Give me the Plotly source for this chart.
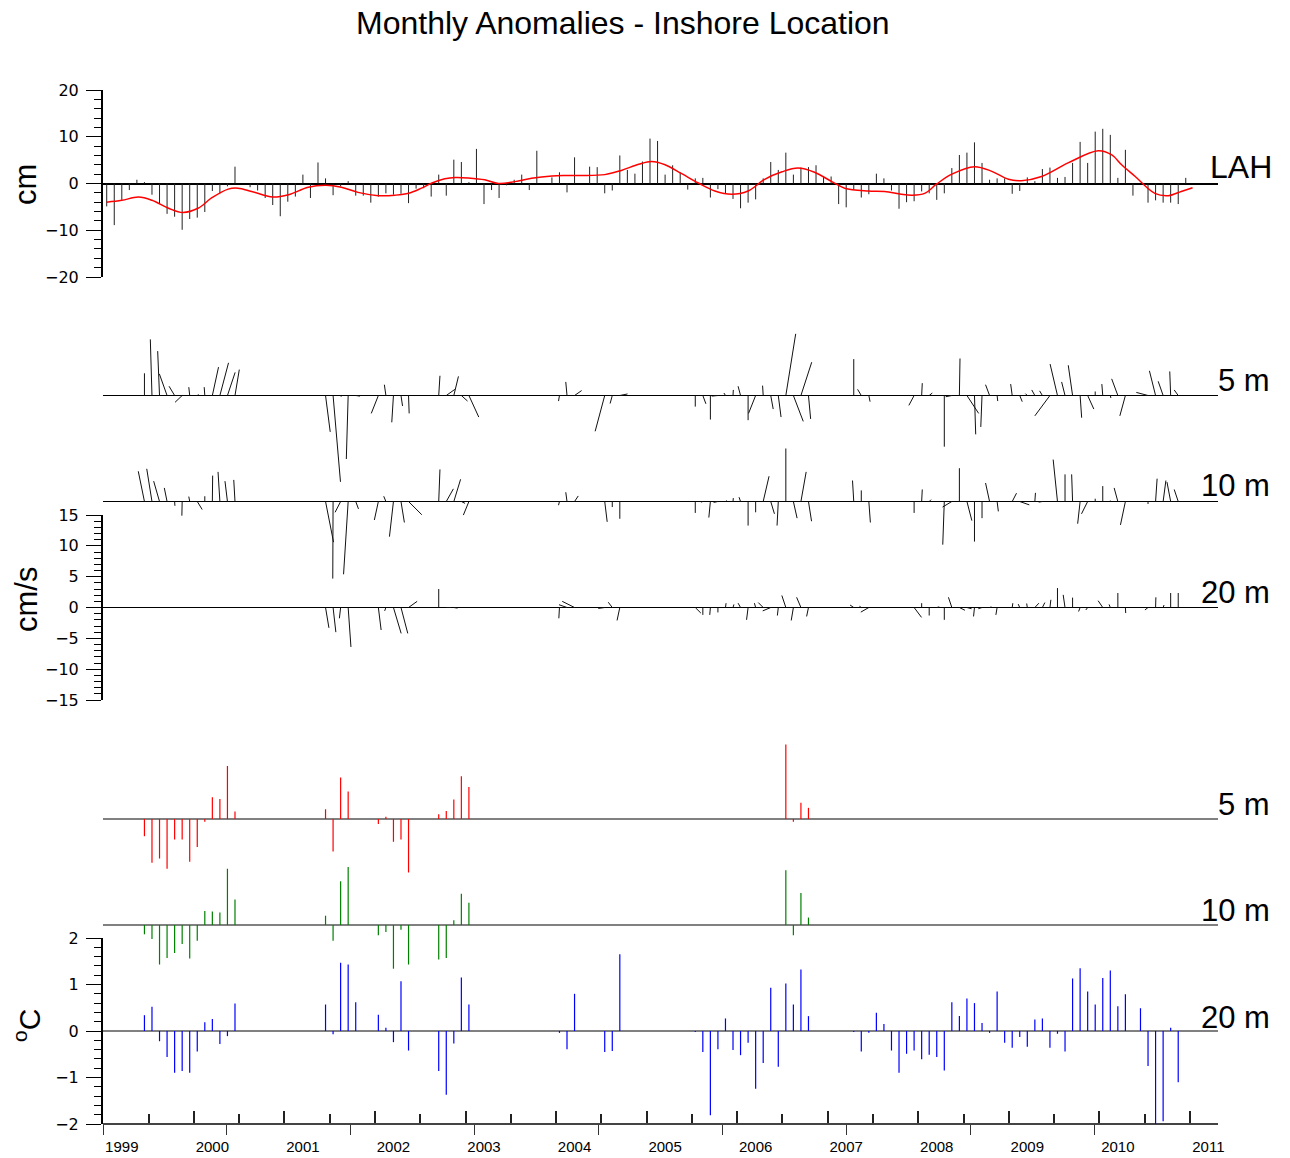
import plotly.graph_objects as go

# ---------------- time base: monthly records starting November 1998 ----------------
START_YEAR = 1998
START_MONTH = 11


def month_to_year(m):
    return START_YEAR + (START_MONTH - 1 + m) / 12.0


# ---------------- sea level anomaly at LAH (cm), one value per month ----------------
sea_level_cm = [
    -4.9, -8.9, -3.5, -1.4, 0.8, 0.3, -2.4, -4.4, -6.5, -7.1, -9.9, -7.6,
    -7.3, -6.1, -1.6, -2.1, -0.6, 3.6, 0.0, -0.8, -1.5, -3.1, -4.6, -7.0,
    -3.9, -2.8, 1.9, -3.1, 4.5, 1.1, -2.5, -0.6, 0.5, -2.6, -2.6, -4.1,
    -2.8, -2.1, -2.4, -2.2, -4.2, -1.1, -1.0, -2.8, 1.9, -2.6, 5.1, 4.6,
    0.3, 7.4, -4.4, -1.4, -3.1, -0.4, 0.8, 1.9, -1.4, 7.0, 0.0, 1.3,
    2.4, -1.9, 5.6, 0.0, 3.6, 3.5, -2.1, -1.5, 6.0, 2.9, 2.1, 4.7,
    9.6, 9.1, 1.9, 3.9, 2.4, -1.3, 1.1, 1.2, -3.0, -1.2, -2.1, -3.3,
    -5.3, -4.1, -3.4, 1.1, 4.6, 2.9, 6.6, 1.9, 3.4, 3.5, 3.9, 1.5,
    1.5, -4.4, -5.1, -1.4, -3.0, -2.3, 2.1, 1.1, -1.5, -5.4, -4.0, -3.8,
    -1.7, -2.1, -3.5, -2.1, 3.3, 6.1, 6.6, 8.8, 4.4, 0.8, 1.1, 1.1,
    -2.2, -1.6, 1.3, 0.5, 3.1, 3.4, 1.2, 1.4, 4.4, 8.9, 4.4, 11.1,
    11.7, 10.4, 1.2, 7.2, -2.6, 0.0, -4.1, -3.6, -4.1, -4.1, -4.4, 1.2,
]

# low-pass filtered sea level (month index, cm)
sl_smooth_month = [
    0, 2.0, 4.2, 6.0, 8.2, 10.1, 12.1, 13.9, 16.1, 17.4, 19.2, 22.0, 24.1,
    26.7, 29.0, 31.1, 33.3, 36.0, 38.2, 40.0, 41.7, 43.1, 44.8, 46.2, 47.9,
    50.1, 51.9, 54.1, 56.3, 59.0, 60.7, 62.9, 66.0, 68.2, 70.5, 72.2, 74.0,
    76.2, 78.4, 80.6, 82.8, 85.0, 87.2, 89.5, 91.6, 93.8, 96.1, 97.8, 100.9,
    103.1, 105.3, 106.7, 108.4, 110.0, 112.0, 115.0, 117.3, 119.5, 121.2,
    123.9, 127.4, 131.4, 133.2, 134.5, 136.3, 138.9, 140.7, 142.4, 143.9,
]
sl_smooth_cm = [
    -4.0, -3.6, -2.9, -3.6, -5.3, -6.2, -5.3, -3.1, -1.2, -1.0, -1.7, -2.9, -2.4,
    -0.8, -0.4, -0.8, -1.9, -2.6, -2.5, -2.1, -1.0, 0.1, 1.0, 1.3, 1.2,
    0.8, 0.0, 0.4, 1.1, 1.6, 1.7, 1.7, 1.9, 2.8, 4.1, 4.7, 4.0,
    2.1, 0.1, -1.6, -2.3, -1.6, 0.9, 2.5, 3.3, 2.4, 0.4, -1.0, -1.6,
    -1.7, -2.3, -2.5, -2.1, -0.1, 2.0, 3.6, 2.6, 0.9, 0.6,
    1.5, 4.4, 7.0, 6.1, 4.0, 1.5, -2.1, -2.6, -1.7, -0.9,
]

# ---------------- current vectors (cm/s): month index, east u, north v ----------------
cur5_month = [5, 6, 7, 8, 9, 10, 11, 12, 13, 14, 15, 16, 17, 29, 30, 31, 32, 33, 36, 37, 38, 39, 40,
              44, 45, 46, 47, 48, 60, 61, 62, 66, 67, 68, 78, 79, 80, 81, 82, 83, 84, 85, 86, 87,
              88, 89, 90, 91, 92, 93, 99, 100, 101, 107, 108, 109, 111, 112, 113, 114, 115, 116,
              117, 118, 120, 121, 122, 123, 124, 125, 126, 127, 128, 129, 130, 131, 132, 133,
              134, 135, 138, 139, 140, 141, 142]
cur5_u = [0, -0.27, -0.3, -1.25, -0.9, -1.15, -0.15, 0.2, -0.1, 1.0, 1.4, 1.25, 0.7, 0.76, 1.2,
          0.1, -0.3, 0.7, -1.15, -0.25, -0.27, 0.25, 0.1, 0.2, 1.4, 0.75, 1.0, 1.6, -0.15, -0.2,
          1.15, -1.55, -0.35, 1.25, 0, 0.5, 0, -1.0, -0.25, 0.05, -0.4, 0, -1.15, -0.1, 0.4,
          0.45, 1.6, 1.6, 1.75, 0.35, 0, -0.6, 0.2, -0.85, 0.1, 0.5, 0, -1.0, 0.1, 1.9, 0.2,
          -0.2, -0.65, 0.1, -0.25, 0.4, -0.3, -0.5, -0.45, -2.45, -1.2, -0.55, -0.7, 0.25,
          1.0, 0, -0.15, 0.1, -1.0, -0.9, -1.9, -1.0, -0.8, -0.15, -0.65]
cur5_v = [3.6, 9.1, 7.2, 3.5, 1.5, -1.1, 1.35, 0.2, 1.35, 4.6, 5.3, 3.75, 4.2, -5.9, -14.0,
          -0.2, -10.3, -0.1, -2.9, 1.75, -4.35, -1.7, -2.9, 3.2, 1.0, 3.1, -0.9, -3.5, -0.9,
          2.2, 0.8, -5.8, -1.3, 0.25, -1.8, -1.35, -3.9, -0.1, 0.4, 0.9, 1.5, -4.0, -2.9, 1.6,
          -2.2, -3.5, 10.0, -4.2, 5.4, -3.8, 5.9, 1.0, -1.0, -1.6, 2.0, 0.4, -8.3, -0.2, 6.0,
          -2.9, -6.3, -5.1, 1.75, -0.9, 1.85, -1.0, 0.3, 0.9, 0.75, -3.3, 5.1, 2.2, 4.9,
          -3.6, -2.2, 0.65, 1.85, -0.4, 2.7, -3.3, 0.5, 4.0, 2.3, 3.9, 0.9]

cur10_month = [5, 6, 7, 8, 9, 10, 11, 12, 13, 14, 15, 16, 17, 29, 30, 31, 32, 33, 36, 37, 38, 39,
               40, 44, 45, 46, 47, 48, 60, 61, 62, 66, 67, 68, 78, 79, 80, 81, 82, 83, 84, 85, 86,
               87, 88, 89, 90, 91, 92, 93, 99, 100, 101, 107, 108, 109, 111, 112, 113, 114, 115,
               116, 117, 118, 120, 121, 123, 124, 126, 127, 128, 129, 130, 131, 132, 133, 134,
               135, 138, 139, 140, 141, 142]
cur10_u = [-1.0, -0.85, -0.95, -0.45, 0.05, -0.05, -0.15, 0.8, 0, 0.05, -0.3, -0.4, -0.2, 1.3,
           -0.05, -0.9, -0.75, 0.45, -0.65, -0.35, -0.65, 0.55, 2.15, 0.2, 1.15, 1.1, 0.6, -0.9,
           -0.15, -0.2, 0.6, 0.4, 0, 0, 0, -0.3, -0.25, -0.7, 0.2, 0.05, -0.25, 0, 0, 0.95, 0.6,
           -0.2, 0, 0.6, 0.85, 0.5, -0.2, 0, 0.25, 0, 0.1, 0.3, -0.25, -1.5, 0, 0.8, 0, 0,
           -0.65, 0.2, 0.7, 1.55, 0.1, -0.6, -0.7, 0, -0.15, -0.4, -1.0, 0, 0, 0, -0.6, -0.8,
           0, 0.25, 0.45, -0.6, -0.65]
cur10_v = [4.9, 5.3, 3.3, 2.2, -0.7, -2.3, 0.8, -1.3, 0.85, 4.2, 4.8, 3.3, 3.5, -6.6, -12.5,
           -1.75, -11.8, -1.2, -3.0, 0.85, -5.7, -3.4, -2.15, 5.2, 2.05, 3.6, -0.3, -2.2, -0.6,
           1.5, 0.9, -3.3, -0.9, -2.8, -1.85, -0.1, -2.6, -0.15, 0.15, 0.55, 0.7, -3.9, -1.75,
           4.1, -2.0, -3.9, 8.6, -2.7, 4.8, -3.2, 3.4, 1.8, -3.4, -1.85, 1.95, 0.3, -7.0, -0.9,
           5.4, -3.1, -6.5, -2.7, 3.0, -1.6, 1.35, -0.55, 1.4, -0.1, 6.8, 4.4, 4.4, -3.6, -2.0,
           0.45, 2.5, 0.15, 2.2, -3.8, -0.4, 3.7, 3.4, 3.15, 1.95]

cur20_month = [29, 30, 31, 32, 36, 37, 38, 39, 40, 44, 45, 46, 60, 61, 62, 66, 67, 68, 78, 79, 80,
               81, 82, 83, 84, 85, 86, 87, 88, 89, 90, 91, 92, 93, 99, 100, 101, 107, 108, 109,
               110, 111, 112, 113, 114, 115, 116, 117, 118, 120, 121, 122, 123, 124, 125, 126,
               127, 128, 129, 130, 132, 133, 134, 135, 138, 139, 140, 141, 142]
cur20_u = [0.55, 0.45, -0.2, 0.45, 0.45, -0.2, 1.25, 1.1, 1.4, 0, 0.8, 0.6, -0.1, -1.3, -2.0,
           -1.05, -0.65, -0.45, 0.9, 0, -0.1, 0, 0.1, 0.15, -0.4, -0.25, -0.2, -0.8, -1.3, -0.15,
           -0.65, -0.35, -0.7, -0.3, -0.6, -0.3, -1.3, 1.2, 0, 0, 0.4, 0, -0.55, 0.9, 0.75,
           -0.15, -0.6, 0.3, -0.2, 0.1, -0.25, -0.1, 0.65, 0.4, 0.15, 0, -0.3, 0, -0.25, -0.3,
           -0.75, -0.2, 0, 0.05, -0.5, 0.05, 0.15, 0, 0]
cur20_v = [-3.3, -4.0, -1.75, -6.4, -3.65, -0.55, -4.2, -4.2, 1.0, 3.0, 0, -0.1, -1.75, 0.45,
           1.0, -0.15, 0.85, -2.1, -0.9, -1.2, -1.2, -0.8, 0.7, 0.5, 0.7, -2.0, 0.7, 0.8, -0.55,
           -1.3, 1.95, -2.1, 1.65, -1.45, 0.4, 0.2, -0.75, -1.6, 0.7, -1.3, 0.1, -2.0, 1.65,
           -0.45, -0.2, -1.45, -0.2, 0.1, -1.2, 0.7, 0.55, 0.65, 0.7, 0.8, 1.25, 3.15, 2.05, 1.6,
           -0.65, -0.4, 1.1, 0.5, 2.35, -0.9, -0.4, 1.65, 0.4, 2.35, 2.35]

# ---------------- temperature anomalies (deg C): month index, value ----------------
temp5_month = [5, 6, 7, 8, 9, 10, 11, 12, 13, 14, 15, 16, 17, 29, 30, 31, 32, 36, 37, 38, 39, 40,
               44, 45, 46, 47, 48, 90, 91, 92, 93]
temp5_c = [-0.37, -0.94, -0.85, -1.07, -0.44, -0.44, -0.92, -0.60, -0.06, 0.47, 0.43, 1.14, 0.16,
           0.21, -0.70, 0.89, 0.59, -0.11, 0.05, -0.49, -0.44, -1.15, 0.10, 0.17, 0.42, 0.92,
           0.69, 1.60, -0.06, 0.35, 0.24]

temp10_month = temp5_month
temp10_c = [-0.20, -0.30, -0.85, -0.71, -0.60, -0.41, -0.72, -0.34, 0.30, 0.29, 0.27, 1.21, 0.55,
            0.20, -0.34, 0.94, 1.25, -0.22, -0.15, -0.94, -0.10, -0.85, -0.74, -0.71, 0.10, 0.67,
            0.48, 1.18, -0.22, 0.69, 0.16]

temp20_month = [5, 6, 7, 8, 9, 10, 11, 12, 13, 14, 15, 16, 17, 29, 30, 31, 32, 33, 36, 37, 38, 39,
                40, 44, 45, 46, 47, 48, 60, 61, 62, 66, 67, 68, 78, 79, 80, 81, 82, 83, 84, 85,
                86, 87, 88, 89, 90, 91, 92, 93, 99, 100, 101, 102, 103, 104, 105, 106, 107, 108,
                109, 110, 111, 112, 113, 114, 115, 116, 117, 118, 119, 120, 121, 122, 123, 124,
                125, 126, 127, 128, 129, 130, 131, 132, 133, 134, 135, 137, 138, 139, 140, 141,
                142]
temp20_c = [0.34, 0.52, -0.22, -0.56, -0.90, -0.86, -0.90, -0.44, 0.19, 0.26, -0.28, -0.11, 0.59,
            0.57, -0.07, 1.47, 1.43, 0.62, 0.35, 0.07, -0.24, 1.07, -0.42, -0.86, -1.37, -0.27,
            1.15, 0.57, -0.04, -0.39, 0.80, -0.45, -0.43, 1.65, -0.02, -0.45, -1.81, -0.39, 0.27,
            -0.41, -0.52, -0.25, -1.24, -0.69, 0.93, -0.77, 1.02, 0.57, 1.32, 0.32, -0.02, -0.44,
            -0.04, 0.39, 0.15, -0.42, -0.90, -0.49, -0.42, -0.61, -0.51, -0.56, -0.85, 0.62, 0.32,
            0.70, 0.60, 0.17, -0.04, 0.85, -0.25, -0.36, -0.13, -0.34, 0.25, 0.27, -0.36, -0.06,
            -0.44, 1.13, 1.35, 0.85, 0.57, 1.14, 1.30, 0.53, 0.79, 0.49, -0.75, -2.0, -1.94, 0.07,
            -1.10]

year_labels = list(range(1999, 2012))

# ---------------- page geometry (pixels from the top-left corner) ----------------
W, H = 1290, 1158
PLOT_L, PLOT_R = 103, 1218
X_RANGE = [1998.7924, 2011.106]
FONT = "Liberation Sans, Arial, Helvetica, sans-serif"
TICK_FONT = "DejaVu Sans, Liberation Sans, sans-serif"


def fx(px):
    return px / W


def fy(px):
    return 1 - px / H


def band(center_px, half_px):
    return [fy(center_px + half_px), fy(center_px - half_px)]


def bars(months, values):
    xs, ys = [], []
    for m, v in zip(months, values):
        t = month_to_year(m)
        xs += [t, t, None]
        ys += [0, v, None]
    return xs, ys


# horizontal size of one cm/s in years, so sticks keep their true direction on screen
CUR_HALF = 92.5
px_per_cms = 2 * CUR_HALF / 30.0
px_per_year = (PLOT_R - PLOT_L) / (X_RANGE[1] - X_RANGE[0])
years_per_cms = px_per_cms / px_per_year


def sticks(months, u, v):
    xs, ys = [], []
    for m, uu, vv in zip(months, u, v):
        t = month_to_year(m)
        xs += [t, t + uu * years_per_cms, None]
        ys += [0, vv, None]
    return xs, ys


fig = go.Figure()

# sea level sticks and filtered curve
x_sl, y_sl = bars(range(len(sea_level_cm)), sea_level_cm)
fig.add_trace(go.Scatter(x=x_sl, y=y_sl, mode="lines", line=dict(color="#222", width=1),
                         xaxis="x", yaxis="y", hoverinfo="skip"))
fig.add_trace(go.Scatter(x=[month_to_year(m) for m in sl_smooth_month], y=sl_smooth_cm,
                         mode="lines", line=dict(color="#ff0000", width=1.5, shape="spline",
                                                 smoothing=1.0),
                         xaxis="x", yaxis="y", hoverinfo="skip"))

# current sticks
for (mm, uu, vv), ax in zip([(cur5_month, cur5_u, cur5_v), (cur10_month, cur10_u, cur10_v),
                              (cur20_month, cur20_u, cur20_v)], ["y2", "y3", "y4"]):
    xs, ys = sticks(mm, uu, vv)
    fig.add_trace(go.Scatter(x=xs, y=ys, mode="lines", line=dict(color="#111", width=1),
                             xaxis="x", yaxis=ax, hoverinfo="skip"))

# temperature anomaly bars
for (mm, vals), ax, col in zip([(temp5_month, temp5_c), (temp10_month, temp10_c),
                                 (temp20_month, temp20_c)], ["y5", "y6", "y7"],
                                ["#ff0000", "#008000", "#0000ff"]):
    xs, ys = bars(mm, vals)
    fig.add_trace(go.Scatter(x=xs, y=ys, mode="lines", line=dict(color=col, width=1.2),
                             xaxis="x", yaxis=ax, hoverinfo="skip"))

# placeholders so the overlay x axes get drawn
fig.add_trace(go.Scatter(x=[None], y=[None], xaxis="x2", yaxis="y7", showlegend=False,
                         hoverinfo="skip"))
fig.add_trace(go.Scatter(x=[None], y=[None], xaxis="x3", yaxis="y7", showlegend=False,
                         hoverinfo="skip"))

y_tick_font = dict(family=TICK_FONT, size=16, color="black")
x_tick_font = dict(family=FONT, size=15, color="black")
x_domain = [fx(PLOT_L), fx(PLOT_R)]
x_pos = fy(1124)


def shown_y(domain, rng, dtick, minor_dtick, zero_color, zero_width):
    return dict(domain=domain, range=rng, anchor="x", automargin=False, showline=True,
                linecolor="black", linewidth=2, ticks="outside", tickmode="linear", tick0=0,
                dtick=dtick, ticklen=15, tickwidth=1, tickcolor="black", tickfont=y_tick_font,
                ticklabelstandoff=4,
                minor=dict(ticks="outside", dtick=minor_dtick, tick0=0, ticklen=7,
                           tickwidth=1, tickcolor="black"),
                showgrid=False, zeroline=True, zerolinecolor=zero_color,
                zerolinewidth=zero_width, fixedrange=True)


def hidden_y(domain, rng, zero_color, zero_width):
    return dict(domain=domain, range=rng, anchor="x", automargin=False, showline=False,
                ticks="", showticklabels=False, showgrid=False, zeroline=True,
                zerolinecolor=zero_color, zerolinewidth=zero_width, fixedrange=True)


fig.update_layout(
    width=W, height=H, autosize=False,
    margin=dict(l=0, r=0, t=0, b=0, pad=0, autoexpand=False),
    paper_bgcolor="white", plot_bgcolor="rgba(0,0,0,0)",
    showlegend=False,
    font=dict(family=FONT, color="black"),
    xaxis=dict(domain=x_domain, range=X_RANGE, anchor="free", position=x_pos,
               automargin=False, showline=True, linecolor="#444", linewidth=1.5,
               showgrid=False, zeroline=False,
               ticks="inside", tickmode="linear", tick0=1998.796, dtick=1, ticklen=12,
               tickwidth=1.5, tickcolor="#222", showticklabels=False,
               minor=dict(ticks="inside", tick0=1998.796, dtick=0.5, ticklen=9, tickwidth=1.5,
                          tickcolor="#222"),
               fixedrange=True),
    xaxis2=dict(domain=x_domain, range=X_RANGE, anchor="free", position=x_pos,
                overlaying="x", automargin=False, showline=False, showgrid=False,
                zeroline=False, ticks="outside", tickmode="linear", tick0=X_RANGE[0],
                dtick=1.3687, ticklen=10, tickwidth=1.2, tickcolor="#333",
                showticklabels=False, fixedrange=True),
    xaxis3=dict(domain=x_domain, range=X_RANGE, anchor="free", position=x_pos,
                overlaying="x", automargin=False, showline=False, showgrid=False,
                zeroline=False, ticks="", tickmode="array", tickvals=year_labels,
                ticktext=[str(y) for y in year_labels], tickfont=x_tick_font,
                ticklabelstandoff=12, fixedrange=True),
    yaxis=shown_y([fy(277), fy(90)], [-20, 20], 10, 2, "black", 2),
    yaxis2=hidden_y(band(395.5, CUR_HALF), [-15, 15], "black", 1),
    yaxis3=hidden_y(band(501.5, CUR_HALF), [-15, 15], "black", 1),
    yaxis4=shown_y([fy(700), fy(515)], [-15, 15], 5, 1, "black", 1),
    yaxis5=hidden_y(band(819, 93), [-2, 2], "#808080", 2),
    yaxis6=hidden_y(band(925, 93), [-2, 2], "#808080", 2),
    yaxis7=shown_y([fy(1124), fy(938)], [-2, 2], 1, 0.2, "#808080", 2),
)

annotations = [
    dict(text="Monthly Anomalies - Inshore Location", x=623, y=23, size=32,
         xanchor="center", angle=0),
    dict(text="cm", x=26, y=185, size=31, xanchor="center", angle=-90),
    dict(text="cm/s", x=26, y=600, size=31, xanchor="center", angle=-90),
    dict(text="<sup>o</sup>C", x=27, y=1026, size=30, xanchor="center", angle=-90),
    dict(text="LAH", x=1274, y=167, size=32, xanchor="right", angle=0),
    dict(text="5 m", x=1272, y=380, size=31, xanchor="right", angle=0),
    dict(text="10 m", x=1272, y=485, size=31, xanchor="right", angle=0),
    dict(text="20 m", x=1272, y=592, size=31, xanchor="right", angle=0),
    dict(text="5 m", x=1272, y=804, size=31, xanchor="right", angle=0),
    dict(text="10 m", x=1272, y=910, size=31, xanchor="right", angle=0),
    dict(text="20 m", x=1272, y=1017, size=31, xanchor="right", angle=0),
]
for a in annotations:
    fig.add_annotation(text=a["text"], x=fx(a["x"]), y=fy(a["y"]), xref="paper",
                       yref="paper", xanchor=a["xanchor"], yanchor="middle", showarrow=False,
                       textangle=a["angle"], font=dict(family=FONT, size=a["size"],
                                                       color="black"))

fig.write_html("out.html")
